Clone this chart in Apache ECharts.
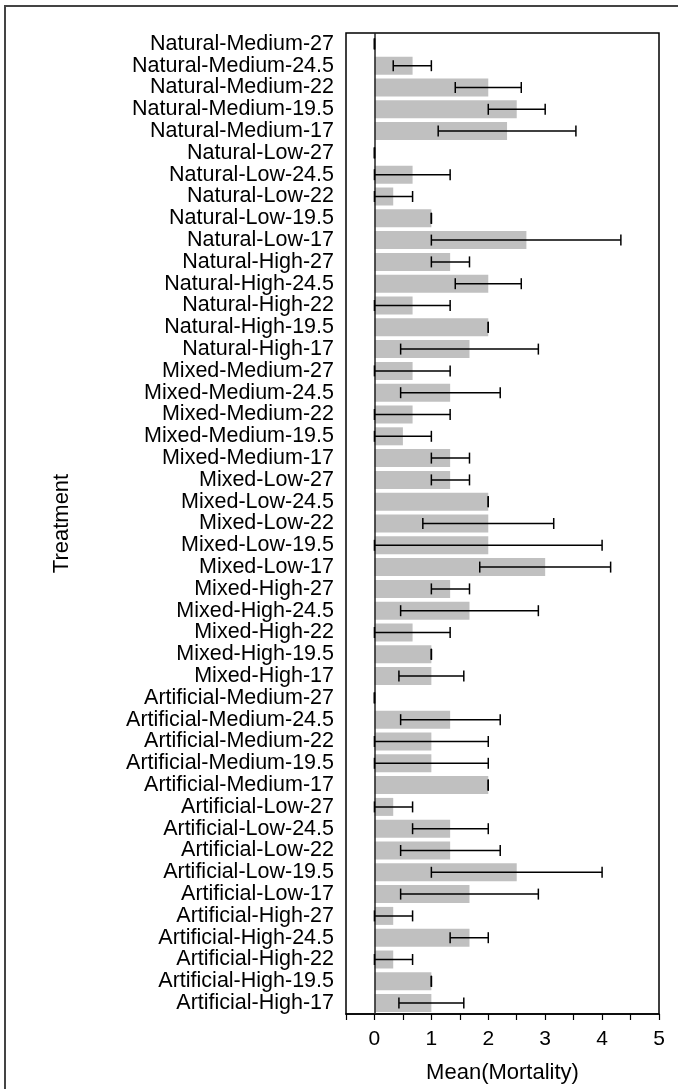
<!DOCTYPE html>
<html>
<head>
<meta charset="utf-8">
<script src="https://cdn.jsdelivr.net/npm/echarts@6/dist/echarts.min.js"></script>
<style>
html,body{margin:0;padding:0;background:#fff;}
#chart{width:678px;height:1089px;}
</style>
</head>
<body>
<div id="chart"></div>
<script>
const categories = [
  "Natural-Medium-27","Natural-Medium-24.5","Natural-Medium-22","Natural-Medium-19.5","Natural-Medium-17",
  "Natural-Low-27","Natural-Low-24.5","Natural-Low-22","Natural-Low-19.5","Natural-Low-17",
  "Natural-High-27","Natural-High-24.5","Natural-High-22","Natural-High-19.5","Natural-High-17",
  "Mixed-Medium-27","Mixed-Medium-24.5","Mixed-Medium-22","Mixed-Medium-19.5","Mixed-Medium-17",
  "Mixed-Low-27","Mixed-Low-24.5","Mixed-Low-22","Mixed-Low-19.5","Mixed-Low-17",
  "Mixed-High-27","Mixed-High-24.5","Mixed-High-22","Mixed-High-19.5","Mixed-High-17",
  "Artificial-Medium-27","Artificial-Medium-24.5","Artificial-Medium-22","Artificial-Medium-19.5","Artificial-Medium-17",
  "Artificial-Low-27","Artificial-Low-24.5","Artificial-Low-22","Artificial-Low-19.5","Artificial-Low-17",
  "Artificial-High-27","Artificial-High-24.5","Artificial-High-22","Artificial-High-19.5","Artificial-High-17"
];
const meanMortality = [
  0, 0.67, 2.0, 2.5, 2.33,
  0, 0.67, 0.33, 1.0, 2.67,
  1.33, 2.0, 0.67, 2.0, 1.67,
  0.67, 1.33, 0.67, 0.5, 1.33,
  1.33, 2.0, 2.0, 2.0, 3.0,
  1.33, 1.67, 0.67, 1.0, 1.0,
  0, 1.33, 1.0, 1.0, 2.0,
  0.33, 1.33, 1.33, 2.5, 1.67,
  0.33, 1.67, 0.33, 1.0, 1.0
];
const errorLow = [
  0, 0.33, 1.42, 2.0, 1.12,
  0, 0, 0, 1.0, 1.0,
  1.0, 1.42, 0, 2.0, 0.46,
  0, 0.46, 0, 0, 1.0,
  1.0, 2.0, 0.85, 0, 1.85,
  1.0, 0.46, 0, 1.0, 0.43,
  0, 0.46, 0, 0, 2.0,
  0, 0.67, 0.46, 1.0, 0.46,
  0, 1.33, 0, 1.0, 0.43
];
const errorHigh = [
  0, 1.0, 2.58, 3.0, 3.54,
  0, 1.33, 0.67, 1.0, 4.33,
  1.67, 2.58, 1.33, 2.0, 2.88,
  1.33, 2.21, 1.33, 1.0, 1.67,
  1.67, 2.0, 3.15, 4.0, 4.15,
  1.67, 2.88, 1.33, 1.0, 1.57,
  0, 2.21, 2.0, 2.0, 2.0,
  0.67, 2.0, 2.21, 4.0, 2.88,
  0.67, 2.0, 0.67, 1.0, 1.57
];
const xTickLabels = ["0","1","2","3","4","5"];

const errData = categories.map((c, i) => [errorLow[i], errorHigh[i], i]);
const FONT = "'Liberation Sans', Arial, sans-serif";

const chart = echarts.init(document.getElementById('chart'), null, {renderer: 'canvas'});
chart.setOption({
  animation: false,
  backgroundColor: '#fff',
  graphic: [{
    type: 'rect',
    shape: {x: 5, y: 6, width: 720, height: 1120},
    style: {fill: 'none', stroke: '#444', lineWidth: 2},
    silent: true, z: 100
  }],
  grid: {
    left: 346, top: 33, right: 19, bottom: 72,
    show: true, borderColor: '#000', borderWidth: 1.5, backgroundColor: 'transparent'
  },
  xAxis: {
    type: 'value', min: -0.5, max: 5, interval: 0.5,
    name: 'Mean(Mortality)', nameLocation: 'middle', nameGap: 48,
    nameTextStyle: {fontFamily: FONT, fontSize: 22, color: '#000'},
    axisLine: {show: true, lineStyle: {color: '#000', width: 1.5}},
    axisTick: {show: true, length: 6, lineStyle: {color: '#000', width: 1.2}},
    axisLabel: {
      margin: 15, fontFamily: FONT, fontSize: 21, color: '#000',
      formatter: v => {
        const s = String(v);
        return xTickLabels.indexOf(s) >= 0 ? s : '';
      }
    },
    splitLine: {show: false}
  },
  yAxis: {
    type: 'category', data: categories, inverse: true,
    name: 'Treatment', nameLocation: 'middle', nameGap: 273,
    nameTextStyle: {fontFamily: FONT, fontSize: 22, color: '#000'},
    axisLine: {show: false},
    axisTick: {show: false},
    axisLabel: {interval: 0, margin: 12, fontFamily: FONT, fontSize: 21.5, color: '#000'}
  },
  series: [{
    type: 'bar',
    data: meanMortality,
    barWidth: 18,
    itemStyle: {color: '#c0c0c0'},
    markLine: {
      silent: true, symbol: 'none', animation: false,
      label: {show: false},
      lineStyle: {color: '#222', width: 1.5, type: 'solid'},
      data: [{xAxis: 0}]
    }
  }, {
    type: 'custom',
    data: errData,
    encode: {x: [0, 1], y: 2},
    z: 10,
    renderItem: function (params, api) {
      const lo = api.coord([api.value(0), api.value(2)]);
      const hi = api.coord([api.value(1), api.value(2)]);
      const h = 5.5;
      const style = {stroke: '#000', lineWidth: 1.5};
      return {
        type: 'group',
        children: [
          {type: 'line', shape: {x1: lo[0], y1: lo[1], x2: hi[0], y2: hi[1]}, style},
          {type: 'line', shape: {x1: lo[0], y1: lo[1] - h, x2: lo[0], y2: lo[1] + h}, style},
          {type: 'line', shape: {x1: hi[0], y1: hi[1] - h, x2: hi[0], y2: hi[1] + h}, style}
        ]
      };
    }
  }]
});
</script>
</body>
</html>
